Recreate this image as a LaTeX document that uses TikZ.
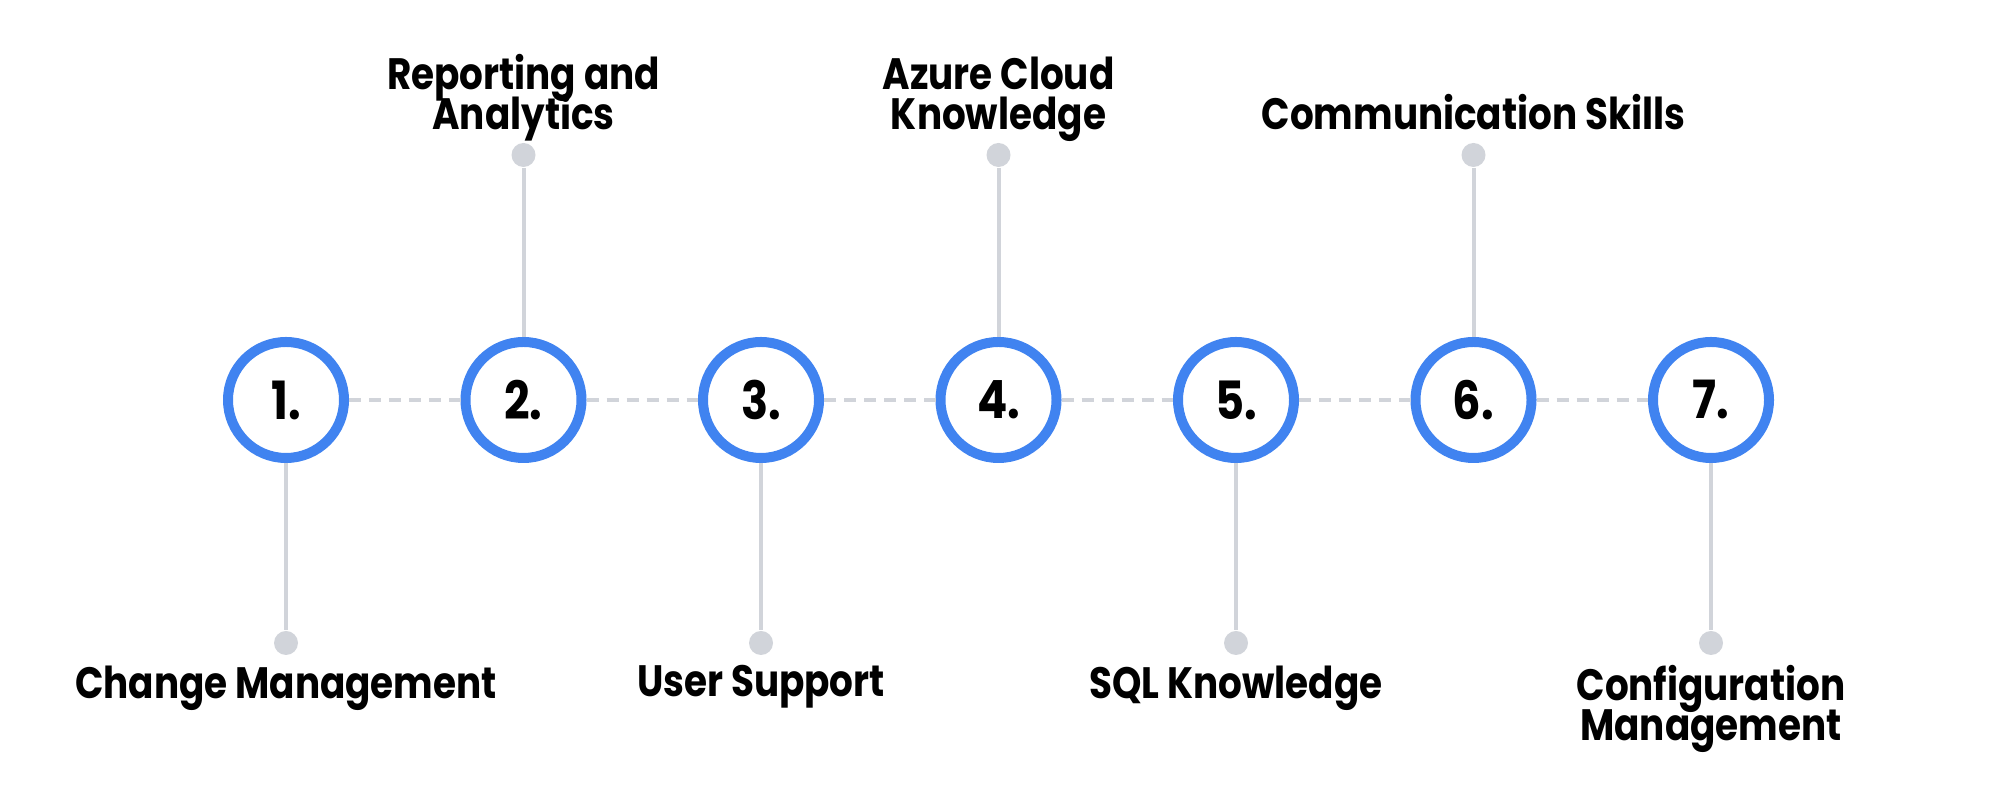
\documentclass[tikz,border=0pt]{standalone}
\usepackage{fontspec}
\setmainfont{Poppins}[FakeStretch=0.85]
\usetikzlibrary{positioning}
\definecolor{ringblue}{RGB}{64,131,240}
\definecolor{stemgray}{RGB}{209,212,218}
\newcommand\skilllabelfont{\fontsize{12.5}{11.4}\selectfont\bfseries\lineskiplimit-20pt\relax}
\tikzset{
  stepcircle/.style={circle, draw=ringblue, line width=0.1cm, fill=white, minimum size=1.16cm, inner sep=0pt, font=\fontsize{15}{18}\selectfont\bfseries},
  enddot/.style={circle, fill=stemgray, minimum size=0.24cm, inner sep=0pt},
  stem/.style={draw=stemgray, line width=0.04cm},
  dashline/.style={draw=stemgray, line width=0.04cm, dash pattern=on 0.12cm off 0.08cm},
  labeltext/.style={align=center, inner sep=0pt, font=\skilllabelfont},
  toplabel/.style={labeltext, anchor=south, text depth=0pt},
  botlabel/.style={labeltext, anchor=north}
}
\begin{document}
\begin{tikzpicture}
                \useasboundingbox (0,0) rectangle (20,8);
                \node[stepcircle] (c1) at (2.86,4.0) {1.};
                \node[stepcircle] (c2) at (5.235,4.0) {2.};
                \node[stepcircle] (c3) at (7.61,4.0) {3.};
                \node[stepcircle] (c4) at (9.985,4.0) {4.};
                \node[stepcircle] (c5) at (12.36,4.0) {5.};
                \node[stepcircle] (c6) at (14.735,4.0) {6.};
                \node[stepcircle] (c7) at (17.11,4.0) {7.};
                % dots at the ends of the stems
                \node[enddot] (d1) at (2.86,1.57) {};
                \node[enddot] (d2) at (5.235,6.45) {};
                \node[enddot] (d3) at (7.61,1.57) {};
                \node[enddot] (d4) at (9.985,6.45) {};
                \node[enddot] (d5) at (12.36,1.57) {};
                \node[enddot] (d6) at (14.735,6.45) {};
                \node[enddot] (d7) at (17.11,1.57) {};
                % labels
                \node[botlabel] (l1) at (2.86,1.35) {Change Management};
                \node[toplabel] (l2) at (5.235,6.70) {Reporting and\\Analytics};
                \node[botlabel] (l3) at (7.61,1.35) {User Support};
                \node[toplabel] (l4) at (9.985,6.70) {Azure Cloud\\Knowledge};
                \node[botlabel] (l5) at (12.36,1.35) {SQL Knowledge};
                \node[toplabel] (l6) at (14.735,6.70) {Communication Skills};
                \node[botlabel] (l7) at (17.11,1.35) {Configuration\\Management};
                \draw[dashline] (c1) -- (c2);
                \draw[dashline] (c2) -- (c3);
                \draw[dashline] (c3) -- (c4);
                \draw[dashline] (c4) -- (c5);
                \draw[dashline] (c5) -- (c6);
                \draw[dashline] (c6) -- (c7);
                \draw[stem] (c1) -- (d1);
                \draw[stem] (c2) -- (d2);
                \draw[stem] (c3) -- (d3);
                \draw[stem] (c4) -- (d4);
                \draw[stem] (c5) -- (d5);
                \draw[stem] (c6) -- (d6);
                \draw[stem] (c7) -- (d7);
\end{tikzpicture}
\end{document}
